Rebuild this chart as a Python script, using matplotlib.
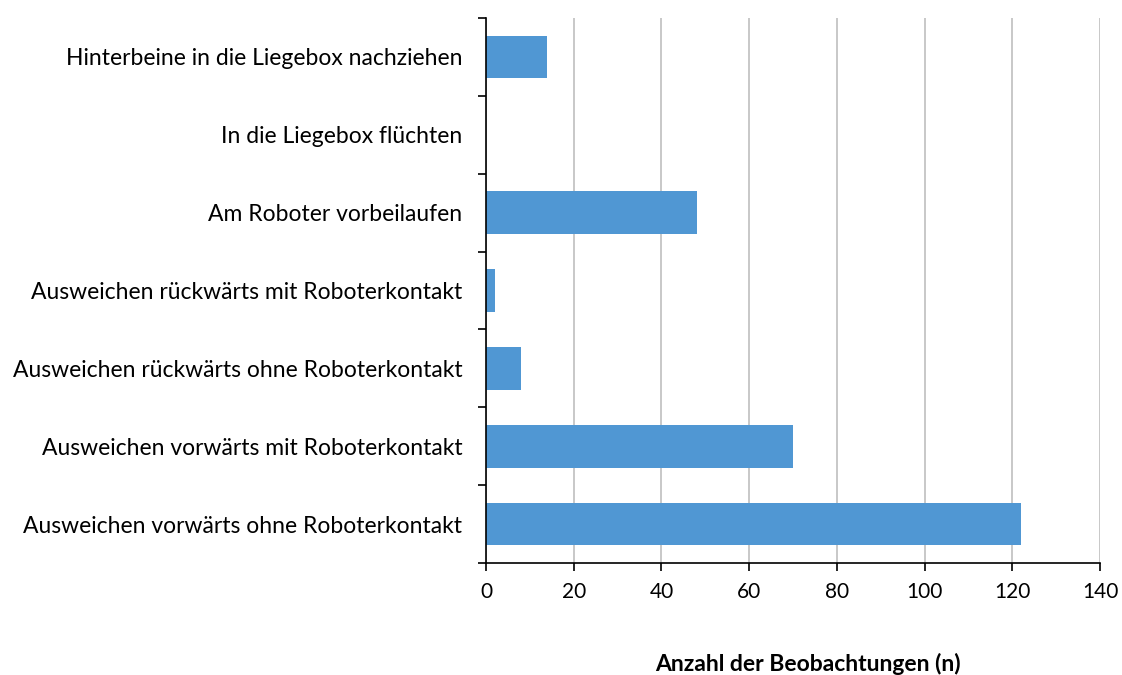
import numpy as np
import matplotlib

matplotlib.use("Agg")
import matplotlib.pyplot as plt

plt.rcParams["font.family"] = ["Lato", "DejaVu Sans"]

# categories from bottom to top
categories = [
    "Ausweichen vorwärts ohne Roboterkontakt",
    "Ausweichen vorwärts mit Roboterkontakt",
    "Ausweichen rückwärts ohne Roboterkontakt",
    "Ausweichen rückwärts mit Roboterkontakt",
    "Am Roboter vorbeilaufen",
    "In die Liegebox flüchten",
    "Hinterbeine in die Liegebox nachziehen",
]
counts = [122, 70, 8, 2, 48, 0, 14]
x_ticks = [0, 20, 40, 60, 80, 100, 120, 140]

fig = plt.figure(figsize=(11.22, 6.75), dpi=100)
ax = fig.add_axes([0.4332, 0.1659, 0.5472, 0.8074])

y = np.arange(len(categories))
ax.barh(y, counts, height=0.55, color="#5097D3", zorder=3)

ax.set_xlim(0, 140)
ax.set_ylim(-0.5, len(categories) - 0.5)
ax.set_xticks(x_ticks)
ax.tick_params(axis="x", labelsize=15, length=6, width=1.2, direction="out", pad=8)

# category labels on major ticks (hidden marks), boundary marks on minor ticks
ax.set_yticks(y)
ax.set_yticklabels(categories)
ax.tick_params(axis="y", which="major", length=0, labelsize=16.5, pad=17)
ax.set_yticks(np.arange(-0.5, len(categories)), minor=True)
ax.tick_params(axis="y", which="minor", length=6, width=1.2, direction="out")

ax.grid(axis="x", color="#BFBFBF", linewidth=1.2, zorder=0)
for side in ["top", "right"]:
    ax.spines[side].set_visible(False)
for side in ["left", "bottom"]:
    ax.spines[side].set_linewidth(1.2)
    ax.spines[side].set_zorder(4)

ax.set_xlabel("Anzahl der Beobachtungen (n)", fontsize=16.5, fontweight="bold")
ax.xaxis.set_label_coords(0.524, -0.165)

plt.savefig("out.png", dpi=100)
